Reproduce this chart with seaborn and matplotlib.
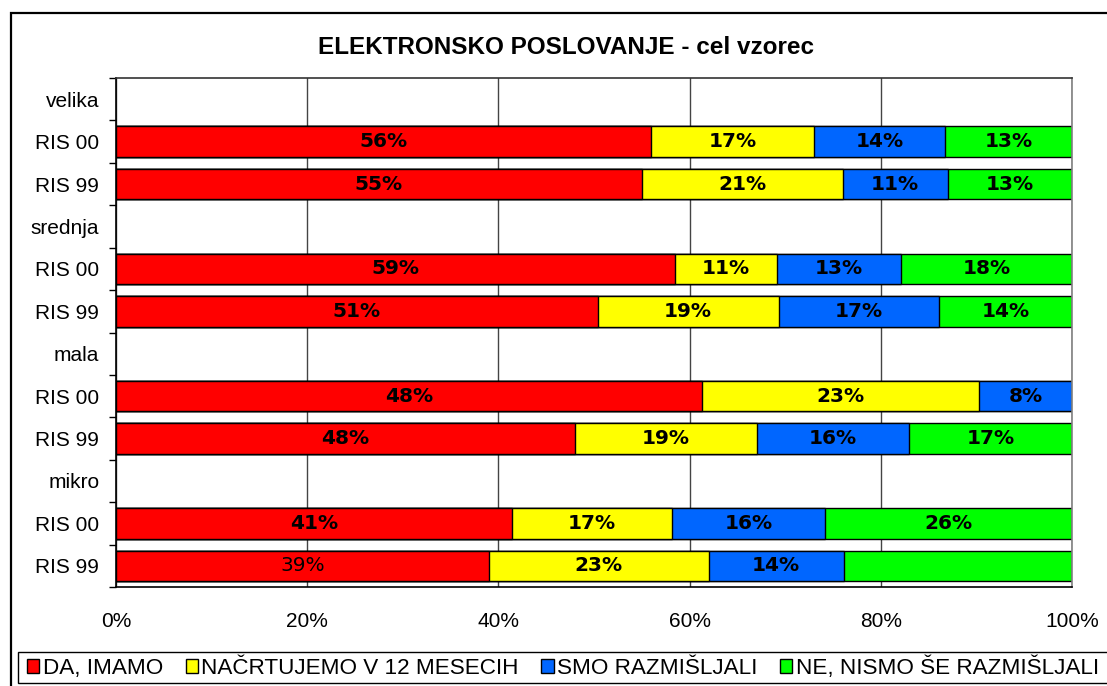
import matplotlib
matplotlib.use("Agg")
import matplotlib.pyplot as plt
from matplotlib.patches import Rectangle, Patch
import numpy as np
import pandas as pd
import seaborn as sns

# ---------------- data ----------------
groups = ["velika", "srednja", "mala", "mikro"]
waves = ["RIS 00", "RIS 99"]
series = ["DA, IMAMO", "NAČRTUJEMO V 12 MESECIH", "SMO RAZMIŠLJALI", "NE, NISMO ŠE RAZMIŠLJALI"]
colors = ["#FF0000", "#FFFF00", "#0066FF", "#00FF00"]

bar_rows = ["velika RIS 00", "velika RIS 99", "srednja RIS 00", "srednja RIS 99",
            "mala RIS 00", "mala RIS 99", "mikro RIS 00", "mikro RIS 99"]
da = [56.0, 55.0, 58.5, 50.4, 61.3, 48.0, 41.4, 39.0]
nacrt = [17.0, 21.0, 10.6, 18.9, 29.0, 19.0, 16.8, 23.0]
smo = [13.7, 11.0, 13.0, 16.8, 9.7, 16.0, 16.0, 14.1]
ne = [13.3, 13.0, 17.9, 13.9, 0.0, 17.0, 25.8, 23.9]

da_lbl = ["56%", "55%", "59%", "51%", "48%", "48%", "41%", "39%"]
nacrt_lbl = ["17%", "21%", "11%", "19%", "23%", "19%", "17%", "23%"]
smo_lbl = ["14%", "11%", "13%", "17%", "8%", "16%", "16%", "14%"]
ne_lbl = ["13%", "13%", "18%", "14%", "", "17%", "26%", ""]

x_ticks = [0, 20, 40, 60, 80, 100]
x_tick_labels = ["0%", "20%", "40%", "60%", "80%", "100%"]

# ---------------- build ----------------
order = []
tick_labels = []
for g in groups:
    order.append(g)
    tick_labels.append(g)
    for w in waves:
        order.append(f"{g} {w}")
        tick_labels.append(w)

values = [da, nacrt, smo, ne]
labels = [da_lbl, nacrt_lbl, smo_lbl, ne_lbl]
df = pd.DataFrame({"row": bar_rows})
for s, v in zip(series, values):
    df[s] = v
cum = df[series].cumsum(axis=1)
for s in series:
    df["cum_" + s] = cum[s]

sns.set_style("white")
plt.rcParams["font.family"] = ["Liberation Sans", "DejaVu Sans"]
plt.rcParams["text.color"] = "black"
plt.rcParams["axes.labelcolor"] = "black"
plt.rcParams["xtick.color"] = "black"
plt.rcParams["ytick.color"] = "black"

fig = plt.figure(figsize=(11.07, 6.86), dpi=100)
ax = fig.add_axes([116 / 1107, 1 - 587 / 686, (1072 - 116) / 1107, (587 - 78) / 686])

for s, c in reversed(list(zip(series, colors))):
    sns.barplot(data=df, x="cum_" + s, y="row", order=order, orient="h",
                color=c, saturation=1, edgecolor="black", linewidth=1.0,
                width=0.72, errorbar=None, ax=ax, zorder=2)

plain = {("mikro RIS 99", 0)}
pos = {k: i for i, k in enumerate(order)}
for r, row in enumerate(bar_rows):
    left = 0.0
    for j in range(len(series)):
        v = values[j][r]
        txt = labels[j][r]
        if txt:
            bold = (row, j) not in plain
            ax.text(left + v / 2, pos[row], txt, ha="center", va="center",
                    fontsize=14.5, family="DejaVu Sans",
                    fontweight="bold" if bold else "normal", color="black", zorder=5)
        left += v

ax.set_xlim(0, 100)
ax.set_ylim(len(order) - 0.5, -0.5)
ax.set_xticks(x_ticks)
ax.set_xticklabels(x_tick_labels)
ax.set_yticks(range(len(order)))
ax.set_yticklabels(tick_labels)
ax.set_yticks(np.arange(-0.5, len(order), 1), minor=True)
ax.tick_params(axis="y", which="major", length=0, pad=12, labelsize=15, labelcolor="black")
ax.tick_params(axis="y", which="minor", length=5, width=1, color="black", direction="out", left=True)
ax.tick_params(axis="x", which="major", length=0, pad=18, labelsize=15, labelcolor="black")
ax.set_xlabel("")
ax.set_ylabel("")

ax.set_axisbelow(True)
ax.xaxis.grid(True, color="#444444", linewidth=1.0)
ax.yaxis.grid(False)
for side in ["left", "bottom"]:
    ax.spines[side].set_color("black")
    ax.spines[side].set_linewidth(1.2)
ax.spines["top"].set_color("#333333")
ax.spines["top"].set_linewidth(1.2)
ax.spines["right"].set_color("#808080")
ax.spines["right"].set_linewidth(1.2)

# title
fig.text(566 / 1107, 1 - 48 / 686, "ELEKTRONSKO POSLOVANJE - cel vzorec",
         ha="center", va="center", fontsize=17.5, fontweight="bold", color="black")

# outer chart border
fig.add_artist(Rectangle((11 / 1107, -0.1), 1.2, 1.1 - 13 / 686,
                         transform=fig.transFigure, fill=False,
                         edgecolor="black", linewidth=1.6))
# legend box
fig.add_artist(Rectangle((18 / 1107, 1 - 683 / 686), 1.2, (683 - 652) / 686,
                         transform=fig.transFigure, fill=True, facecolor="white",
                         edgecolor="black", linewidth=1.0))
handles = [Patch(facecolor=c, edgecolor="black", linewidth=1.0) for c in colors]
fig.legend(handles, series, loc="center left",
           bbox_to_anchor=(27 / 1107, 1 - 667.5 / 686), ncol=4, frameon=False,
           fontsize=16.2, handlelength=0.55, handleheight=0.55, handletextpad=0.15,
           columnspacing=1.0, borderaxespad=0, borderpad=0, labelcolor="black")

fig.savefig("out.png", dpi=100)
